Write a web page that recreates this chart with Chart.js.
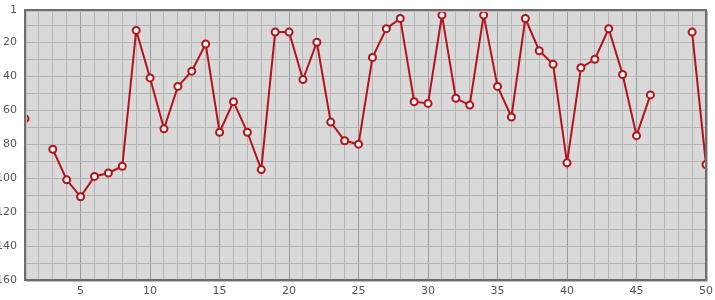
<!DOCTYPE html>
<html>
<head>
<meta charset="utf-8">
<script src="https://cdn.jsdelivr.net/npm/chart.js@4"></script>
<style>
  html, body { margin: 0; padding: 0; background: #fff; }
  #wrap { width: 715px; height: 300px; position: relative; }
</style>
</head>
<body>
<div id="wrap"><canvas id="chart"></canvas></div>
<script>
// --- Daten ---
const xValues = [];
for (let i = 1; i <= 50; i++) xValues.push(i);

const rankValues = [
  65, null, 83, 101, 111, 99, 97, 93, 13, 41,
  71, 46, 37, 21, 73, 55, 73, 95, 14, 14,
  42, 20, 67, 78, 80, 29, 12, 6, 55, 56,
  4, 53, 57, 4, 46, 64, 6, 25, 33, 91,
  35, 30, 12, 39, 75, 51, null, null, 14, 92
];

const yTickValues = [1, 10, 20, 30, 40, 50, 60, 70, 80, 90, 100, 110, 120, 130, 140, 150, 160];
const yTickLabels = [1, 20, 40, 60, 80, 100, 120, 140, 160];
const xTickLabels = [5, 10, 15, 20, 25, 30, 35, 40, 45, 50];

// --- Plugin: Hintergrund + Rahmen der Plotfläche ---
const plotFrame = {
  id: 'plotFrame',
  beforeDraw(chart) {
    const { ctx, chartArea: a } = chart;
    ctx.save();
    ctx.fillStyle = '#d9d9d9';
    ctx.fillRect(a.left, a.top, a.right - a.left, a.bottom - a.top);
    ctx.restore();
  },
  afterDatasetsDraw(chart) {
    const { ctx, chartArea: a } = chart;
    ctx.save();
    ctx.strokeStyle = '#bdbdbd';
    ctx.lineWidth = 1;
    ctx.strokeRect(a.left + 1.5, a.top + 1.5, a.right - a.left, a.bottom - a.top);
    ctx.strokeStyle = '#6e6e6e';
    ctx.lineWidth = 2;
    ctx.strokeRect(a.left, a.top, a.right - a.left, a.bottom - a.top);
    ctx.restore();
  }
};

const points = xValues.map((x, i) => ({ x: x, y: rankValues[i] }));

new Chart(document.getElementById('chart'), {
  type: 'line',
  data: {
    datasets: [{
      data: points,
      borderColor: '#b3141b',
      borderWidth: 2,
      backgroundColor: '#ffffff',
      pointBorderColor: '#b3141b',
      pointBackgroundColor: '#f4f4f4',
      pointBorderWidth: 2,
      pointRadius: 3.5,
      tension: 0,
      spanGaps: false
    }]
  },
  options: {
    responsive: true,
    maintainAspectRatio: false,
    animation: false,
    layout: { padding: { left: 0, right: 9, top: 10, bottom: 0 } },
    plugins: { legend: { display: false }, tooltip: { enabled: false } },
    scales: {
      x: {
        type: 'linear',
        min: 1,
        max: 50,
        afterBuildTicks: (axis) => { axis.ticks = xValues.map(v => ({ value: v })); },
        afterFit: (axis) => { axis.height = 20; axis.paddingRight = 0; axis.paddingLeft = 0; },
        grid: {
          drawTicks: false,
          color: (c) => (c.tick && xTickLabels.includes(c.tick.value)) ? '#9a9a9a' : '#b4b4b4',
          lineWidth: 1
        },
        border: { display: false },
        ticks: {
          autoSkip: false,
          maxRotation: 0,
          padding: 5,
          color: '#555',
          font: { family: 'DejaVu Sans', size: 11 },
          callback: (v) => xTickLabels.includes(v) ? String(v) : ''
        }
      },
      y: {
        type: 'linear',
        reverse: true,
        min: 1,
        max: 160,
        afterBuildTicks: (axis) => { axis.ticks = yTickValues.map(v => ({ value: v })); },
        afterFit: (axis) => { axis.width = 25; axis.paddingTop = 0; axis.paddingBottom = 0; },
        grid: {
          drawTicks: false,
          color: '#b4b4b4',
          lineWidth: 1
        },
        border: { display: false },
        ticks: {
          autoSkip: false,
          padding: 8,
          color: '#555',
          font: { family: 'DejaVu Sans', size: 11 },
          callback: (v) => yTickLabels.includes(v) ? String(v) : ''
        }
      }
    }
  },
  plugins: [plotFrame]
});
</script>
</body>
</html>
